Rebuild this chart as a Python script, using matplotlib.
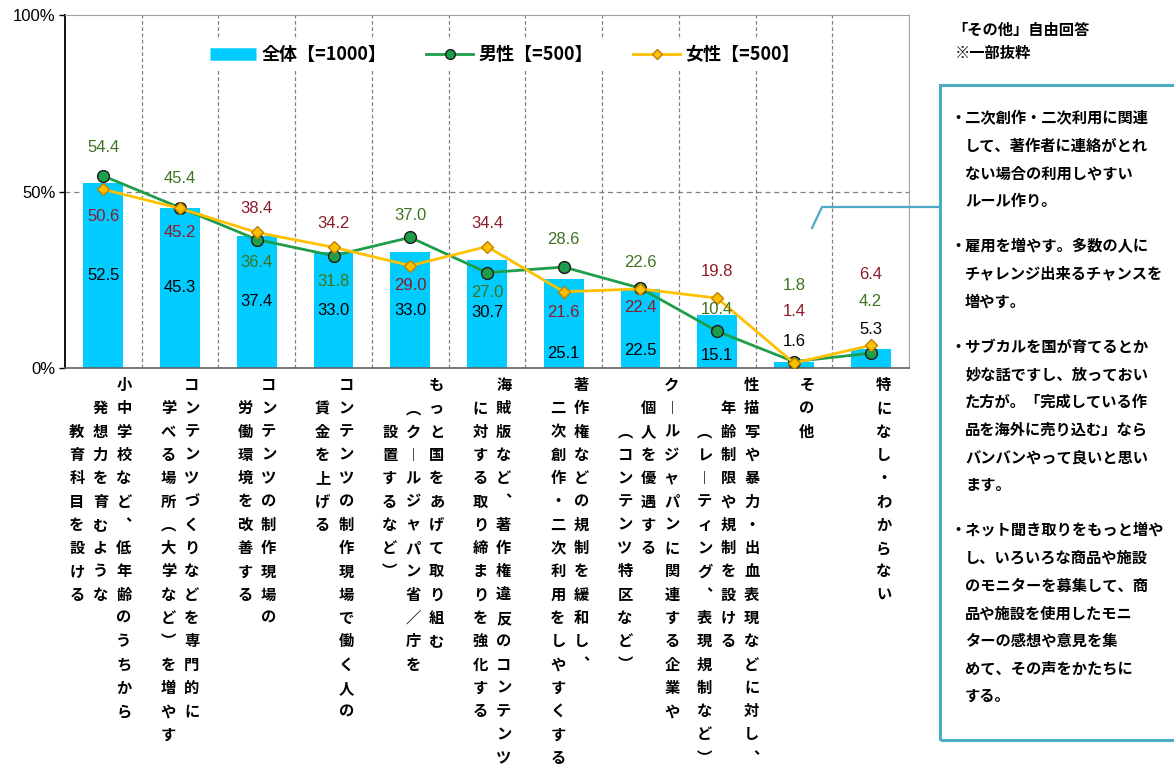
import matplotlib
matplotlib.use('Agg')
import matplotlib.pyplot as plt
from matplotlib.lines import Line2D
from matplotlib.patches import Rectangle
import numpy as np

plt.rcParams['font.family'] = ['Noto Sans CJK JP', 'DejaVu Sans']

# category labels, one list per category, columns read right to left
categories = [
    ['小中学校など、低年齢のうちから', '発想力を育むような', '教育科目を設ける'],
    ['コンテンツづくりなどを専門的に', '学べる場所（大学など）を増やす'],
    ['コンテンツの制作現場の', '労働環境を改善する'],
    ['コンテンツの制作現場で働く人の', '賃金を上げる'],
    ['もっと国をあげて取り組む', '（クールジャパン省／庁を', '設置するなど）'],
    ['海賊版など、著作権違反のコンテンツ', 'に対する取り締まりを強化する'],
    ['著作権などの規制を緩和し、', '二次創作・二次利用をしやすくする'],
    ['クールジャパンに関連する企業や', '個人を優遇する', '（コンテンツ特区など）'],
    ['性描写や暴力・出血表現などに対し、', '年齢制限や規制を設ける', '（レーティング、表現規制など）'],
    ['その他'],
    ['特になし・わからない'],
]
total = [52.5, 45.3, 37.4, 33.0, 33.0, 30.7, 25.1, 22.5, 15.1, 1.6, 5.3]
male = [54.4, 45.4, 36.4, 31.8, 37.0, 27.0, 28.6, 22.6, 10.4, 1.8, 4.2]
female = [50.6, 45.2, 38.4, 34.2, 29.0, 34.4, 21.6, 22.4, 19.8, 1.4, 6.4]
legend_labels = ['全体【=1000】', '男性【=500】', '女性【=500】']
yticks = [0, 50, 100]
ytick_labels = ['0%', '50%', '100%']

note_title = ['「その他」自由回答', '※一部抜粋']
note_items = [
    ['二次創作・二次利用に関連', 'して、著作者に連絡がとれ', 'ない場合の利用しやすい', 'ルール作り。'],
    ['雇用を増やす。多数の人に', 'チャレンジ出来るチャンスを', '増やす。'],
    ['サブカルを国が育てるとか', '妙な話ですし、放っておい', 'た方が。「完成している作',
     '品を海外に売り込む」なら', 'バンバンやって良いと思い', 'ます。'],
    ['ネット聞き取りをもっと増や', 'し、いろいろな商品や施設', 'のモニターを募集して、商',
     '品や施設を使用したモニ', 'ターの感想や意見を集', 'めて、その声をかたちに', 'する。'],
]

# where the value labels sit (in % units), as placed in the original
total_lbl_y = [26.3, 22.7, 18.7, 16.4, 16.4, 15.6, 4.2, 5.0, 3.4, 7.6, 11.0]
male_lbl_y = [62.6, 53.8, 29.8, 24.6, 43.3, 21.3, 36.5, 30.0, 16.7, 23.5, 18.8]
female_lbl_y = [42.8, 38.5, 45.2, 41.0, 23.5, 41.0, 15.7, 17.2, 27.3, 16.0, 26.4]
# horizontal shift of each category label block (px)
label_dx = [-3, 0, 0, 1, 3, 5, 6, 8, 11, 13, 13]

c_bar = '#00CCFF'
c_male = '#1E9E4A'
c_female = '#FFC000'
c_male_txt = '#3E7420'
c_female_txt = '#8E1B2A'
c_box = '#4BACC6'

W, H = 1174, 765
fig = plt.figure(figsize=(W / 100, H / 100), dpi=100)
ax = fig.add_axes([65 / W, 1 - 368 / H, (909 - 65) / W, (368 - 15) / H])

x = np.arange(len(total))
ax.bar(x, total, width=0.52, color=c_bar, zorder=2)
ax.plot(x, male, color=c_male, lw=2, marker='o', ms=8.5, mfc=c_male, mec='#1a1a1a', mew=1, zorder=3)
ax.plot(x, female, color=c_female, lw=2, marker='D', ms=6.5, mfc=c_female, mec='#C08000', mew=1, zorder=4)

num_font = dict(family='Liberation Sans', fontsize=12, ha='center', va='center', zorder=6)
for i in x:
    ax.text(i, total_lbl_y[i], f'{total[i]:.1f}', color='black', **num_font)
    ax.text(i, male_lbl_y[i], f'{male[i]:.1f}', color=c_male_txt, **num_font)
    ax.text(i, female_lbl_y[i], f'{female[i]:.1f}', color=c_female_txt, **num_font)

ax.set_xlim(-0.5, len(total) - 0.5)
ax.set_ylim(0, 100)
ax.set_yticks(yticks)
ax.set_yticklabels(ytick_labels, family='Liberation Sans', fontsize=12)
ax.set_xticks([])
ax.tick_params(axis='y', direction='out', length=4, width=1, pad=3)

for i in range(len(total) - 1):
    ax.axvline(i + 0.5, color='#808080', lw=0.9, ls=(0, (3, 2)), zorder=1)
ax.axhline(50, color='#808080', lw=0.9, ls=(0, (4, 3)), zorder=1)

ax.spines['left'].set_color('black')
ax.spines['left'].set_linewidth(1.3)
ax.spines['bottom'].set_color('#606060')
ax.spines['bottom'].set_linewidth(1.2)
ax.spines['top'].set_color('#a0a0a0')
ax.spines['right'].set_color('#a0a0a0')

handles = [
    Line2D([], [], color=c_bar, lw=9, solid_capstyle='butt'),
    Line2D([], [], color=c_male, lw=2, marker='o', ms=7, mfc=c_male, mec='#1a1a1a'),
    Line2D([], [], color=c_female, lw=2, marker='D', ms=5.5, mfc=c_female, mec='#C08000'),
]
leg = ax.legend(handles, legend_labels, loc='center', bbox_to_anchor=(0.521, 0.887), ncol=3,
                frameon=True, fancybox=False, facecolor='white', edgecolor='none', framealpha=1,
                prop={'family': ['Noto Sans CJK JP', 'DejaVu Sans'], 'weight': 'bold', 'size': 13},
                handlelength=2.6, columnspacing=2.2, handletextpad=0.3, borderpad=0.3)
leg.set_zorder(5)

# vertical category labels, character by character
vert = {'（': '︵', '）': '︶', 'ー': '︱', '、': '︑'}
px = 0.72
for i, cols in enumerate(categories):
    n = len(cols)
    for j, col in enumerate(cols):
        dx = ((n - 1) / 2 - j) * 23.5 + label_dx[i]
        for k, ch in enumerate(col):
            dy = -(17 + (j + k) * 23.3)
            ax.annotate(vert.get(ch, ch), xy=(i, 0), xycoords=('data', 'axes fraction'),
                        xytext=(dx * px, dy * px), textcoords='offset points',
                        ha='center', va='center', fontsize=11, fontweight='bold',
                        annotation_clip=False)

# right panel
fig.text(952 / W, 1 - 30 / H, note_title[0], fontsize=11, fontweight='bold', va='center')
fig.text(955 / W, 1 - 53 / H, note_title[1], fontsize=11, fontweight='bold', va='center')

box = Rectangle((940 / W, 1 - 740 / H), 0.3, (740 - 85) / H, transform=fig.transFigure,
                fill=False, edgecolor=c_box, lw=2.2)
fig.add_artist(box)
fig.add_artist(Line2D([812 / W, 822 / W, 940 / W], [1 - 228 / H, 1 - 207 / H, 1 - 207 / H],
                      transform=fig.transFigure, color=c_box, lw=1.6))

y = 118
for item in note_items:
    for n, line in enumerate(item):
        if n == 0:
            fig.text(950 / W, 1 - y / H, '・' + line, fontsize=11, fontweight='bold', va='center')
        else:
            fig.text(965 / W, 1 - y / H, line, fontsize=11, fontweight='bold', va='center')
        y += 27.7
    y += 45 - 27.7

fig.savefig('out.png', dpi=100)
